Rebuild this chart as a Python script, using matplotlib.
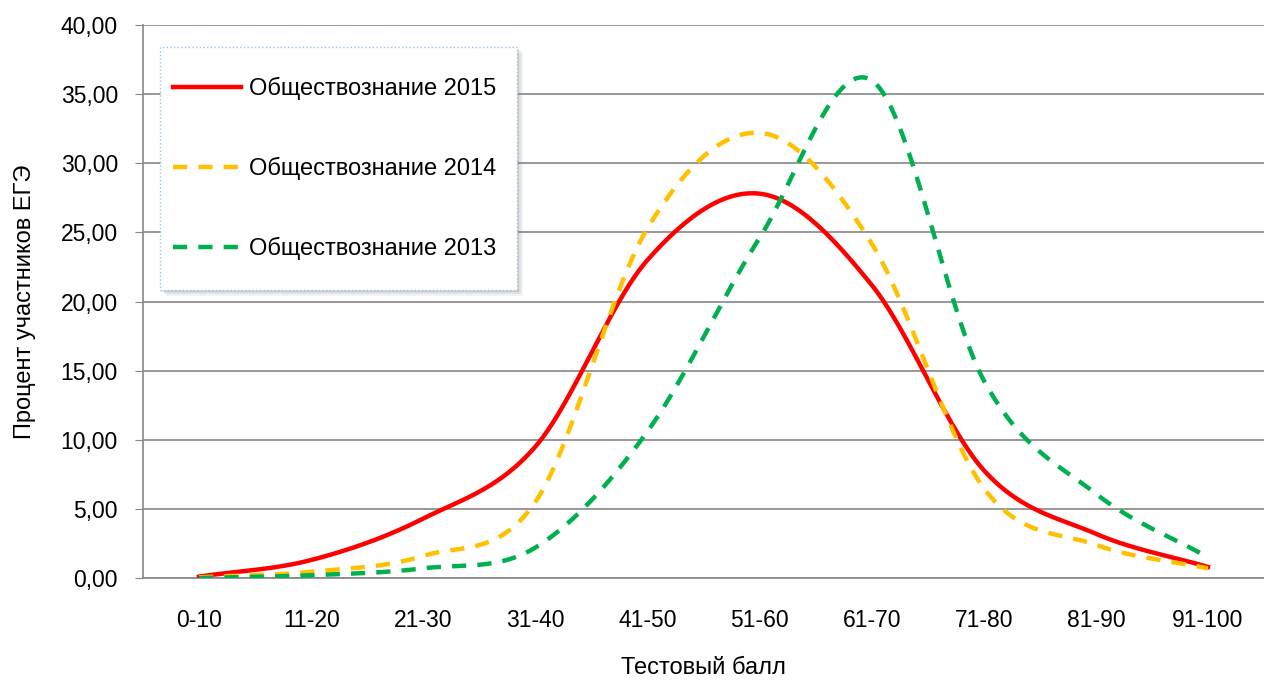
import numpy as np
import matplotlib.pyplot as plt
from matplotlib.patches import Rectangle

plt.rcParams['font.family'] = ['Liberation Sans', 'DejaVu Sans']

categories = ['0-10', '11-20', '21-30', '31-40', '41-50', '51-60', '61-70', '71-80', '81-90', '91-100']
soc_2015 = [0.1, 1.3, 4.3, 9.5, 23.0, 27.8, 21.2, 7.8, 3.2, 0.8]
soc_2014 = [0.05, 0.45, 1.6, 5.5, 25.3, 32.2, 24.2, 6.5, 2.4, 0.7]
soc_2013 = [0.0, 0.2, 0.7, 2.2, 10.6, 24.6, 36.0, 14.3, 6.1, 1.5]
y_ticks = [0, 5, 10, 15, 20, 25, 30, 35, 40]


def smooth(y, n=30):
    # catmull-rom through the points, like Excel's "smoothed line"
    y = np.asarray(y, dtype=float)
    p = np.concatenate([[2 * y[0] - y[1]], y, [2 * y[-1] - y[-2]]])
    xs, ys = [], []
    for i in range(len(y) - 1):
        t = np.linspace(0, 1, n, endpoint=False)
        p0, p1, p2, p3 = p[i], p[i + 1], p[i + 2], p[i + 3]
        v = 0.5 * (2 * p1 + (-p0 + p2) * t + (2 * p0 - 5 * p1 + 4 * p2 - p3) * t ** 2
                   + (-p0 + 3 * p1 - 3 * p2 + p3) * t ** 3)
        xs.append(i + t)
        ys.append(v)
    xs.append([len(y) - 1])
    ys.append([y[-1]])
    return np.concatenate(xs), np.concatenate(ys)


W, H = 1264, 680
fig = plt.figure(figsize=(W / 100, H / 100), dpi=100)
ax = fig.add_axes([143 / W, 1 - 578 / H, 1 - 143 / W, (578 - 25) / H])

x, y = smooth(soc_2015)
ax.plot(x, y, color='#ff0000', lw=3.2, label='Обществознание 2015', zorder=3)
x, y = smooth(soc_2014)
ax.plot(x, y, color='#ffc000', lw=3.2, dashes=(3.2, 2.5), label='Обществознание 2014', zorder=3)
x, y = smooth(soc_2013)
ax.plot(x, y, color='#00b050', lw=3.2, dashes=(3.2, 2.5), label='Обществознание 2013', zorder=3)

ax.set_xlim(-0.5, 9.5)
ax.set_ylim(0, 40)
ax.set_yticks(y_ticks)
ax.set_yticklabels([('%.2f' % v).replace('.', ',') for v in y_ticks], fontsize=16.5)
ax.set_xticks(range(len(categories)))
ax.set_xticklabels(categories, fontsize=16.5)
ax.tick_params(axis='x', length=0, pad=22)
ax.tick_params(axis='y', length=6, color='#868686', pad=12)
ax.grid(axis='y', color='#868686', lw=1.2)
ax.set_axisbelow(True)
for s in ['top', 'right']:
    ax.spines[s].set_visible(False)
for s in ['left', 'bottom']:
    ax.spines[s].set_color('#868686')
    ax.spines[s].set_linewidth(1.2)

ax.set_xlabel('Тестовый балл', fontsize=17, labelpad=18)
ax.set_ylabel('Процент участников ЕГЭ', fontsize=17, labelpad=18)

# legend box with soft shadow
x0, y0, x1, y1 = 160, 47, 517, 290
for k, a in [(6, 0.10), (4, 0.15), (2, 0.25)]:
    ax.add_patch(Rectangle(((x0 + k) / W, 1 - (y1 + k) / H), (x1 - x0) / W, (y1 - y0) / H,
                           transform=fig.transFigure, facecolor='#808080', edgecolor='none',
                           alpha=a, zorder=4, clip_on=False))
ax.add_patch(Rectangle((x0 / W, 1 - y1 / H), (x1 - x0) / W, (y1 - y0) / H,
                       transform=fig.transFigure, facecolor='white', edgecolor='#9dc3f0',
                       linestyle=':', lw=1.0, zorder=4.5, clip_on=False))

leg = ax.legend(loc='upper left', bbox_to_anchor=(173 / W, 1 - 77 / H), bbox_transform=fig.transFigure,
                fontsize=17, frameon=False, handlelength=2.9, handletextpad=0.3,
                labelspacing=2.4, borderpad=0, borderaxespad=0)
leg.set_zorder(5)

fig.savefig('out.png', dpi=100)
